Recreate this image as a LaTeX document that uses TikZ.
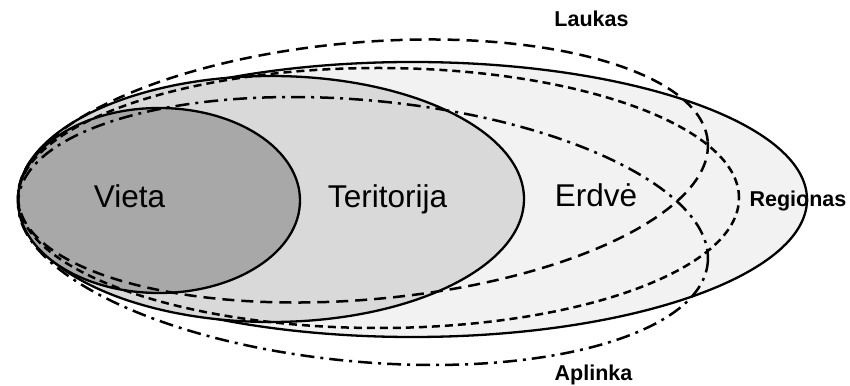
\documentclass[tikz,border=0pt]{standalone}
\usepackage{fontspec}
\setmainfont{Liberation Sans}

\definecolor{vietagray}{HTML}{A8A8A8}
\definecolor{teritgray}{HTML}{D9D9D9}
\definecolor{regiongray}{HTML}{F2F2F2}

\begin{document}
\begin{tikzpicture}[x=1pt,y=1pt,
	bound/.style={line width=2.3pt},
	laukasline/.style={line width=2.5pt,dash pattern=on 12pt off 7pt},
	erdveline/.style={line width=2.5pt,dash pattern=on 8pt off 5pt},
	aplinkaline/.style={line width=2.5pt,dash pattern=on 14pt off 6pt on 3pt off 6pt},
	biglabel/.style={font=\fontsize{31.5}{31.5}\selectfont,anchor=base},
	smalllabel/.style={font=\fontsize{21.5}{21.5}\selectfont\bfseries,anchor=base}]
\useasboundingbox (0,0) rectangle (850,385);

% filled areas
\draw[bound,fill=regiongray] (412.5,185.5) ellipse [x radius=394.5, y radius=137.5];
\draw[bound,fill=teritgray] (271,186) ellipse [x radius=253, y radius=123];
\draw[bound,fill=vietagray] (159,184.5) ellipse [x radius=141, y radius=92.5];

% open borders
\draw[erdveline] (378.5,187) ellipse [x radius=360.5, y radius=130];
\draw[laukasline,shift={(363,214)},rotate=4.9] (0,0) ellipse [x radius=346, y radius=128.6];
\draw[aplinkaline,shift={(363,154)},rotate=-5.26] (0,0) ellipse [x radius=346.2, y radius=130.7];

\node[biglabel] (vieta) at (129.5,177) {Vieta};
\node[biglabel] (teritorija) at (387.5,177) {Teritorija};
\node[biglabel] (erdve) at (596,178) {Erdvė};
\node[smalllabel] (regionas) at (798,178) {Regionas};
\node[smalllabel] (laukas) at (591.5,358) {Laukas};
\node[smalllabel] (aplinka) at (593.5,5) {Aplinka};
\end{tikzpicture}
\end{document}
